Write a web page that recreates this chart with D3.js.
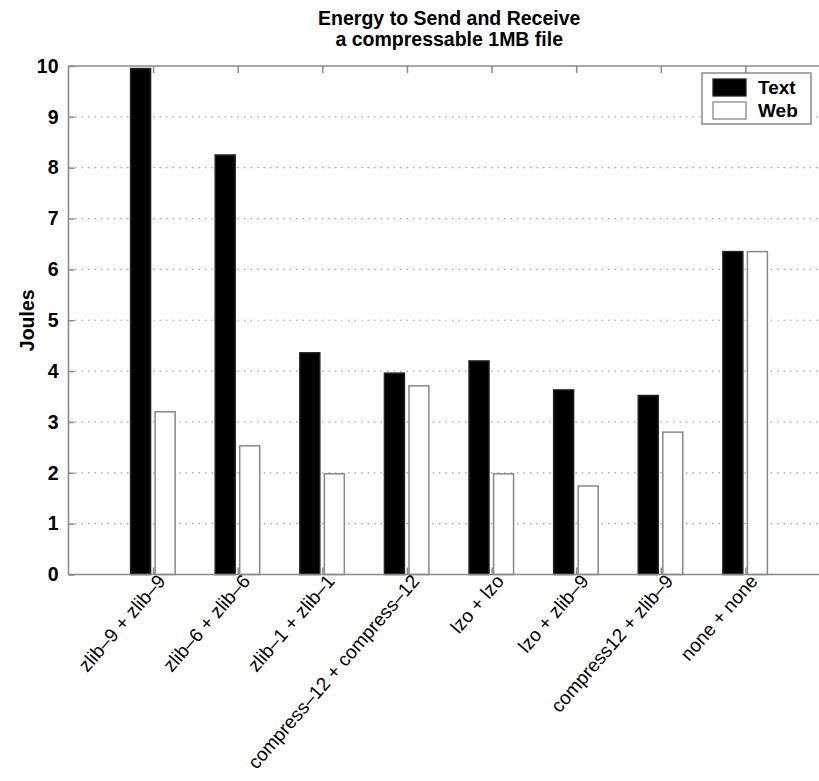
<!DOCTYPE html>
<html>
<head>
<meta charset="utf-8">
<script src="https://cdn.jsdelivr.net/npm/d3@7"></script>
<style>
  html, body { margin: 0; padding: 0; background: #fff; }
  svg { display: block; }
  text { font-family: "Liberation Sans", Arial, Helvetica, sans-serif; fill: #000; }
</style>
</head>
<body>
<svg id="chart" width="819" height="781"></svg>
<script>
// Energy (Joules) to send and receive a compressible 1 MB file
const categories = [
  "zlib–9 + zlib–9",
  "zlib–6 + zlib–6",
  "zlib–1 + zlib–1",
  "compress–12 + compress–12",
  "lzo + lzo",
  "lzo + zlib–9",
  "compress12 + zlib–9",
  "none + none"
];
const textValues = [9.95, 8.25, 4.36, 3.96, 4.20, 3.63, 3.52, 6.35];
const webValues  = [3.20, 2.53, 1.98, 3.71, 1.98, 1.74, 2.80, 6.35];
const seriesNames = ["Text", "Web"];
const yTicks = [0, 1, 2, 3, 4, 5, 6, 7, 8, 9, 10];
const titleLines = ["Energy to Send and Receive", "a compressable 1MB file"];
const yLabel = "Joules";

const svg = d3.select("#chart");
const axisColor = "#8a8a8a";

// category i sits at position i+1 on a 0..9 axis
const x = d3.scaleLinear().domain([0, categories.length + 1]).range([68.5, 830]);
const y = d3.scaleLinear().domain([0, 10]).range([574.5, 66]);

// dotted horizontal grid
svg.append("g").selectAll("line")
  .data(yTicks.filter(t => t > 0 && t < 10))
  .join("line")
  .attr("x1", x(0)).attr("x2", x(categories.length + 1))
  .attr("y1", d => y(d)).attr("y2", d => y(d))
  .attr("stroke", "#a0a0a0")
  .attr("stroke-width", 1.2)
  .attr("stroke-dasharray", "1.5,5");

// bars
const groups = svg.append("g");
const barSpec = [
  { values: textValues, lo: -0.266, hi: -0.03, fill: "#000", stroke: "#222" },
  { values: webValues,  lo: 0.024,  hi: 0.26,  fill: "#fff", stroke: "#888" }
];
barSpec.forEach(s => {
  groups.append("g").selectAll("rect")
    .data(s.values)
    .join("rect")
    .attr("x", (d, i) => x(i + 1 + s.lo))
    .attr("width", (d, i) => x(i + 1 + s.hi) - x(i + 1 + s.lo))
    .attr("y", d => y(d))
    .attr("height", d => y(0) - y(d))
    .attr("fill", s.fill)
    .attr("stroke", s.stroke)
    .attr("stroke-width", 1.5);
});

// axes frame
const frame = svg.append("g").attr("stroke", axisColor).attr("stroke-width", 1.6).attr("fill", "none");
frame.append("line").attr("x1", x(0)).attr("x2", x(0)).attr("y1", y(0)).attr("y2", y(10));
frame.append("line").attr("x1", x(0)).attr("x2", x(categories.length + 1)).attr("y1", y(10)).attr("y2", y(10));
frame.append("line").attr("x1", x(0)).attr("x2", x(categories.length + 1)).attr("y1", y(0)).attr("y2", y(0));

// y axis (ticks inward, labels outside)
const yAxis = d3.axisLeft(y).tickValues(yTicks).tickSizeInner(-6).tickSizeOuter(0).tickPadding(10);
const gy = svg.append("g").attr("transform", `translate(${x(0)},0)`).call(yAxis);
gy.select(".domain").remove();
gy.selectAll(".tick line").attr("stroke", axisColor).attr("stroke-width", 1.5);
gy.selectAll(".tick text")
  .attr("font-size", 19.5).attr("font-weight", "bold")
  .style("font-family", "'Liberation Sans', Arial, sans-serif");

// top ticks at each category
const xTop = d3.axisTop(x).tickValues(d3.range(1, categories.length + 1)).tickSizeInner(-7).tickSizeOuter(0).tickFormat("");
const gt = svg.append("g").attr("transform", `translate(0,${y(10)})`).call(xTop);
gt.select(".domain").remove();
gt.selectAll(".tick line").attr("stroke", axisColor).attr("stroke-width", 1.5);

// bottom axis with slanted category labels
const xBottom = d3.axisBottom(x).tickValues(d3.range(1, categories.length + 1))
  .tickSizeInner(-7).tickSizeOuter(0).tickFormat(d => categories[d - 1]);
const gb = svg.append("g").attr("transform", `translate(0,${y(0)})`).call(xBottom);
gb.select(".domain").remove();
gb.selectAll(".tick line").attr("stroke", axisColor).attr("stroke-width", 1.5);
gb.selectAll(".tick text")
  .attr("font-size", 19)
  .style("font-family", "'Liberation Sans', Arial, sans-serif")
  .attr("text-anchor", "end")
  .attr("dominant-baseline", "central")
  .attr("dy", null)
  .attr("y", 0)
  .attr("transform", "translate(8,3) rotate(-49)");

// title
svg.append("g").selectAll("text")
  .data(titleLines)
  .join("text")
  .attr("x", (x(0) + x(categories.length + 1)) / 2)
  .attr("y", (d, i) => 25 + i * 21)
  .attr("text-anchor", "middle")
  .attr("font-size", 19.5)
  .attr("font-weight", "bold")
  .text(d => d);

// y label
svg.append("text")
  .attr("transform", `translate(34,${(y(0) + y(10)) / 2}) rotate(-90)`)
  .attr("text-anchor", "middle")
  .attr("font-size", 19.5)
  .attr("font-weight", "bold")
  .text(yLabel);

// legend
const legend = svg.append("g").attr("transform", "translate(702,73)");
legend.append("rect").attr("width", 109).attr("height", 51)
  .attr("fill", "#fff").attr("stroke", axisColor).attr("stroke-width", 1.5);
const legendFills = [{ fill: "#000", stroke: "#222" }, { fill: "#fff", stroke: "#888" }];
seriesNames.forEach((name, i) => {
  legend.append("rect")
    .attr("x", 11).attr("y", 6 + i * 23)
    .attr("width", 33).attr("height", 17)
    .attr("fill", legendFills[i].fill).attr("stroke", legendFills[i].stroke).attr("stroke-width", 1.3);
  legend.append("text")
    .attr("x", 56).attr("y", 21 + i * 23)
    .attr("font-size", 19).attr("font-weight", "bold")
    .text(name);
});
</script>
</body>
</html>
